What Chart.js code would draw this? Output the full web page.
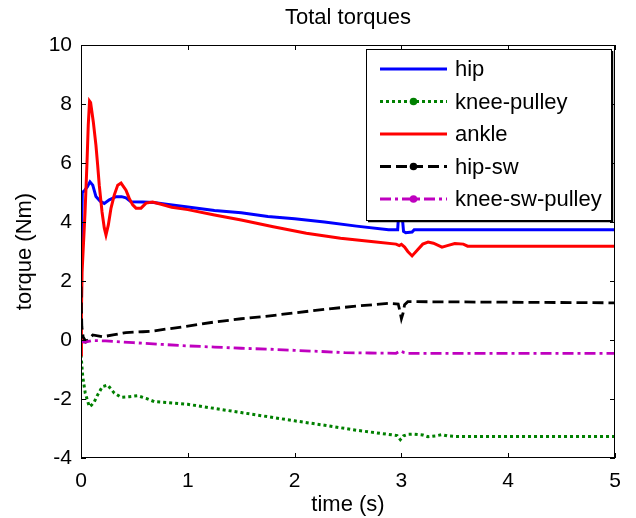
<!DOCTYPE html>
<html>
<head>
<meta charset="utf-8">
<script src="https://cdn.jsdelivr.net/npm/chart.js@4.4.1/dist/chart.umd.min.js"></script>
<style>
  html, body { margin: 0; padding: 0; background: #fff; }
  #wrap { width: 636px; height: 518px; }
</style>
</head>
<body>
<div id="wrap"><canvas id="c" width="636" height="518"></canvas></div>
<script>
// ---- data ----
const titleText = 'Total torques';
const xLabel = 'time (s)';
const yLabel = 'torque (Nm)';
const xTicks = [0, 1, 2, 3, 4, 5];
const yTicks = [-4, -2, 0, 2, 4, 6, 8, 10];
const seriesNames = ['hip', 'knee-pulley', 'ankle', 'hip-sw', 'knee-sw-pulley'];

const hipT = [0, 0.005, 0.012, 0.03, 0.06, 0.084, 0.11, 0.14, 0.18, 0.218, 0.265, 0.328, 0.38, 0.421, 0.468, 0.578, 0.68, 0.8, 1.0, 1.25, 1.5, 1.75, 2.0, 2.28, 2.58, 2.88, 2.965, 2.975, 3.005, 3.02, 3.04, 3.1, 3.12, 5];
const hipV = [1.5, 3.5, 5.0, 5.05, 5.2, 5.36, 5.25, 4.86, 4.7, 4.63, 4.75, 4.86, 4.86, 4.82, 4.69, 4.68, 4.66, 4.6, 4.51, 4.39, 4.31, 4.19, 4.11, 4.0, 3.86, 3.74, 3.74, 4.3, 4.3, 3.68, 3.64, 3.66, 3.74, 3.74];

const kneePulleyT = [0, 0.016, 0.04, 0.078, 0.1, 0.125, 0.156, 0.2, 0.25, 0.312, 0.375, 0.452, 0.53, 0.61, 0.686, 0.8, 1.0, 1.25, 1.5, 1.75, 2.0, 2.28, 2.58, 2.88, 2.96, 2.99, 3.02, 3.06, 3.12, 3.2, 3.25, 3.32, 3.38, 3.43, 3.5, 5];
const kneePulleyV = [-0.5, -1.24, -1.8, -2.26, -2.2, -2.09, -1.86, -1.58, -1.53, -1.8, -1.94, -1.92, -1.89, -1.98, -2.09, -2.12, -2.18, -2.32, -2.46, -2.6, -2.74, -2.89, -3.06, -3.2, -3.24, -3.38, -3.25, -3.2, -3.19, -3.22, -3.28, -3.25, -3.21, -3.25, -3.27, -3.27];

const ankleT = [0, 0.004, 0.01, 0.038, 0.056, 0.068, 0.08, 0.09, 0.115, 0.14, 0.156, 0.171, 0.197, 0.218, 0.234, 0.256, 0.281, 0.312, 0.344, 0.375, 0.421, 0.452, 0.484, 0.515, 0.562, 0.609, 0.671, 0.75, 0.85, 1.0, 1.25, 1.5, 1.8, 2.11, 2.43, 2.74, 2.95, 2.98, 3.0, 3.03, 3.06, 3.1, 3.15, 3.2, 3.25, 3.3, 3.38, 3.43, 3.5, 3.58, 3.62, 5];
const ankleV = [-0.5, 1.0, 2.3, 4.34, 6.0, 7.29, 8.1, 8.05, 7.4, 6.6, 5.93, 5.25, 4.34, 3.8, 3.56, 3.9, 4.47, 4.92, 5.25, 5.32, 5.08, 4.8, 4.58, 4.47, 4.47, 4.64, 4.68, 4.6, 4.5, 4.42, 4.24, 4.07, 3.84, 3.62, 3.45, 3.33, 3.25, 3.2, 3.24, 3.15, 3.0, 2.85, 3.05, 3.25, 3.32, 3.28, 3.15, 3.2, 3.27, 3.25, 3.18, 3.18];

const hipSwT = [0, 0.004, 0.008, 0.02, 0.047, 0.08, 0.11, 0.2, 0.3, 0.42, 0.58, 0.67, 0.8, 1.0, 1.25, 1.5, 1.75, 2.0, 2.28, 2.58, 2.88, 2.97, 2.985, 3.0, 3.015, 3.03, 3.06, 5];
const hipSwV = [1.81, 1.0, 0.45, 0.1, -0.06, 0.05, 0.17, 0.11, 0.17, 0.25, 0.28, 0.3, 0.37, 0.47, 0.61, 0.72, 0.81, 0.92, 1.04, 1.15, 1.24, 1.22, 1.0, 0.72, 0.9, 1.2, 1.3, 1.26];

const kneeSwPulleyT = [0, 0.01, 0.03, 0.1, 0.23, 0.49, 0.76, 1.0, 1.25, 1.5, 1.75, 2.0, 2.25, 2.47, 2.7, 2.95, 2.99, 3.02, 3.05, 5];
const kneeSwPulleyV = [0.0, -0.05, -0.08, -0.02, -0.03, -0.09, -0.15, -0.2, -0.24, -0.28, -0.31, -0.35, -0.39, -0.43, -0.44, -0.45, -0.37, -0.42, -0.45, -0.45];

// ---- build ----
function pts(ts, vs) { return ts.map((t, i) => ({ x: t, y: vs[i] })); }
const FONT = '"Liberation Sans", Arial, Helvetica, sans-serif';

const styles = [
  { color: '#0000FF', dash: [], marker: false, w: 3 },
  { color: '#008000', dash: [3, 3], marker: true, w: 3 },
  { color: '#FF0000', dash: [], marker: false, w: 3 },
  { color: '#000000', dash: [11, 5], marker: true, w: 2.8 },
  { color: '#BF00BF', dash: [11, 4, 3, 4], marker: true, w: 2.8 }
];
const allData = [pts(hipT, hipV), pts(kneePulleyT, kneePulleyV), pts(ankleT, ankleV), pts(hipSwT, hipSwV), pts(kneeSwPulleyT, kneeSwPulleyV)];

const datasets = seriesNames.map((name, i) => ({
  label: name,
  data: allData[i],
  borderColor: styles[i].color,
  backgroundColor: styles[i].color,
  borderDash: styles[i].dash,
  borderWidth: styles[i].w,
  pointRadius: 0,
  tension: 0,
  fill: false,
  order: 5 - i,
  _marker: styles[i].marker
}));

const framePlugin = {
  id: 'frame',
  afterDatasetsDraw(chart) {
    const { ctx, chartArea: a, scales: { x, y } } = chart;
    ctx.save();
    ctx.strokeStyle = '#000';
    ctx.lineWidth = 1;
    ctx.setLineDash([]);
    ctx.strokeRect(a.left + 0.5, a.top + 0.5, a.right - a.left - 1, a.bottom - a.top - 1);
    const tl = 5;
    ctx.beginPath();
    x.ticks.forEach(t => {
      const px = Math.round(x.getPixelForValue(t.value)) + 0.5;
      ctx.moveTo(px, a.bottom); ctx.lineTo(px, a.bottom - tl);
      ctx.moveTo(px, a.top); ctx.lineTo(px, a.top + tl);
    });
    y.ticks.forEach(t => {
      const py = Math.round(y.getPixelForValue(t.value)) + 0.5;
      ctx.moveTo(a.left, py); ctx.lineTo(a.left + tl, py);
      ctx.moveTo(a.right, py); ctx.lineTo(a.right - tl, py);
    });
    ctx.stroke();

    // legend box inside the axes (top-right)
    const bl = a.right - 249, br = a.right - 4, bt = a.top + 4, bb = a.top + 175;
    ctx.fillStyle = '#fff';
    ctx.fillRect(bl, bt, br - bl, bb - bt);
    ctx.strokeStyle = '#000';
    ctx.lineWidth = 1;
    ctx.strokeRect(bl + 0.5, bt + 0.5, br - bl, bb - bt);
    ctx.lineWidth = 1.5;
    ctx.beginPath();
    ctx.moveTo(br + 1.5, bt + 2); ctx.lineTo(br + 1.5, bb + 1.5); ctx.lineTo(bl + 2, bb + 1.5);
    ctx.stroke();
    chart.data.datasets.forEach((ds, i) => {
      const cy = bt + 20 + i * 32.5;
      const x0 = bl + 14, x1 = bl + 81;
      ctx.strokeStyle = ds.borderColor;
      ctx.lineWidth = ds.borderWidth;
      ctx.setLineDash(ds.borderDash);
      ctx.beginPath();
      ctx.moveTo(x0, cy); ctx.lineTo(x1, cy);
      ctx.stroke();
      ctx.setLineDash([]);
      if (ds._marker) {
        ctx.fillStyle = ds.borderColor;
        ctx.beginPath();
        ctx.arc((x0 + x1) / 2, cy, 3.8, 0, Math.PI * 2);
        ctx.fill();
      }
      ctx.fillStyle = '#000';
      ctx.font = '22px ' + FONT;
      ctx.textAlign = 'left';
      ctx.textBaseline = 'middle';
      ctx.fillText(ds.label, bl + 89, cy + 1);
    });
    ctx.restore();
  }
};

new Chart(document.getElementById('c'), {
  type: 'line',
  data: { datasets },
  options: {
    responsive: false,
    animation: false,
    devicePixelRatio: 1,
    layout: { padding: { left: 0, right: 21, top: 0, bottom: 0 } },
    plugins: {
      legend: { display: false },
      tooltip: { enabled: false },
      title: {
        display: true,
        text: titleText,
        fullSize: false,
        color: '#000',
        font: { family: FONT, size: 22, weight: 'normal', lineHeight: 1.2 },
        padding: { top: 5, bottom: 13.6 }
      }
    },
    scales: {
      x: {
        type: 'linear',
        min: 0, max: 5,
        afterBuildTicks(scale) { scale.ticks = xTicks.map(v => ({ value: v })); },
        afterFit(scale) { scale.height = 60; },
        grid: { display: false, drawTicks: false },
        border: { display: false },
        ticks: { color: '#000', padding: 11, font: { family: FONT, size: 21 }, maxRotation: 0 },
        title: { display: true, text: xLabel, color: '#000', font: { family: FONT, size: 22, lineHeight: 1 }, padding: { top: 0, bottom: 2 } }
      },
      y: {
        type: 'linear',
        min: -4, max: 10,
        afterBuildTicks(scale) { scale.ticks = yTicks.map(v => ({ value: v })); },
        afterFit(scale) { scale.width = 81; },
        grid: { display: false, drawTicks: false },
        border: { display: false },
        ticks: { color: '#000', padding: 9, font: { family: FONT, size: 21 } },
        title: { display: true, text: yLabel, color: '#000', font: { family: FONT, size: 22, lineHeight: 1 }, padding: { top: 14, bottom: 0 } }
      }
    }
  },
  plugins: [framePlugin]
});
</script>
</body>
</html>
